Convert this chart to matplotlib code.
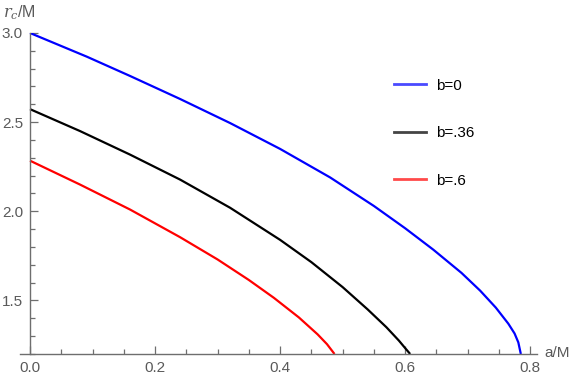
import matplotlib.pyplot as plt
from matplotlib.lines import Line2D
from matplotlib.ticker import MultipleLocator

# values (a/M, r_c/M)
a_b0 = [0.0, 0.091, 0.16, 0.24, 0.32, 0.40, 0.48, 0.55, 0.60, 0.645, 0.69, 0.72, 0.745,
        0.765, 0.775, 0.781, 0.785]
r_b0 = [3.0, 2.867, 2.759, 2.63, 2.495, 2.35, 2.19, 2.03, 1.905, 1.785, 1.655, 1.555, 1.46,
        1.37, 1.315, 1.265, 1.2]

a_b36 = [0.0, 0.08, 0.16, 0.24, 0.32, 0.40, 0.45, 0.50, 0.54, 0.57, 0.59, 0.60, 0.608]
r_b36 = [2.573, 2.45, 2.318, 2.178, 2.02, 1.84, 1.715, 1.575, 1.45, 1.35, 1.275, 1.233, 1.2]

a_b6 = [0.0, 0.08, 0.16, 0.24, 0.30, 0.35, 0.39, 0.43, 0.46, 0.475, 0.487]
r_b6 = [2.284, 2.15, 2.01, 1.855, 1.73, 1.615, 1.515, 1.405, 1.31, 1.255, 1.2]

labels = ['b=0', 'b=.36', 'b=.6']
colors = ['#0000ff', '#000000', '#ff0000']
legend_colors = ['#4a4aff', '#444444', '#ff4a4a']

axis_gray = '#6e6e6e'
text_gray = '#5a5a5a'

plt.rcParams['font.family'] = ['Liberation Sans', 'DejaVu Sans']

fig = plt.figure(figsize=(5.8, 3.81), dpi=100)
ax = fig.add_axes([0.0345, 0.0709, 0.8915, 0.8425])

for a, r, c in zip([a_b0, a_b36, a_b6], [r_b0, r_b36, r_b6], colors):
    ax.plot(a, r, color=c, lw=1.6, solid_capstyle='butt', solid_joinstyle='round')

ax.set_xlim(-0.016, 0.811)
ax.set_ylim(1.2, 3.0)

for s in ['top', 'right']:
    ax.spines[s].set_visible(False)
for s in ['left', 'bottom']:
    ax.spines[s].set_color(axis_gray)
    ax.spines[s].set_linewidth(1.0)
ax.spines['left'].set_position(('data', 0.0))

ax.xaxis.set_major_locator(MultipleLocator(0.2))
ax.xaxis.set_minor_locator(MultipleLocator(0.05))
ax.yaxis.set_major_locator(MultipleLocator(0.5))
ax.yaxis.set_minor_locator(MultipleLocator(0.1))
ax.xaxis.set_major_formatter(plt.FuncFormatter(lambda v, p: f'{v:.1f}'))
ax.yaxis.set_major_formatter(plt.FuncFormatter(lambda v, p: f'{v:.1f}'))

ax.tick_params(which='both', direction='in', color=axis_gray, width=0.9)
ax.tick_params(which='major', length=6, labelsize=11, labelcolor=text_gray, pad=5)
ax.tick_params(which='minor', length=3.5)

fig.text(0.005, 0.966, r'$r_c$/M', fontsize=11.5, color=text_gray, ha='left', va='center',
         math_fontfamily='dejavuserif')
fig.text(0.938, 0.073, 'a/M', fontsize=11, color=text_gray, ha='left', va='center')

handles = [Line2D([], [], color=c, lw=2.0) for c in legend_colors]
leg = ax.legend(handles, labels, loc='upper left', bbox_to_anchor=(0.712, 0.877),
                frameon=False, fontsize=11, handlelength=2.1, handletextpad=0.65,
                labelspacing=2.2, borderaxespad=0)

fig.savefig('out.png', dpi=100)
